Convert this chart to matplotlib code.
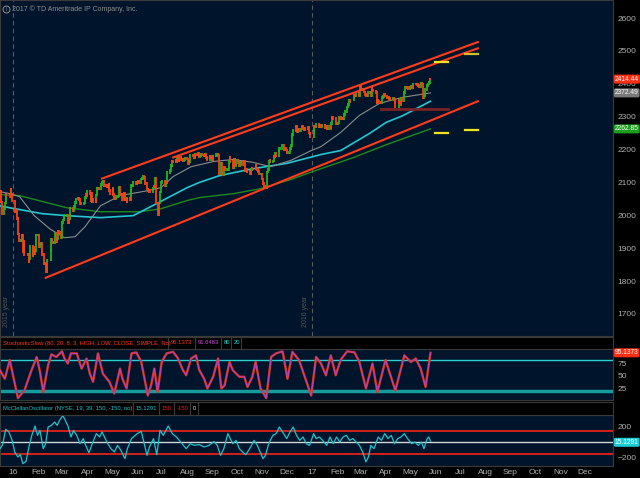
import matplotlib
matplotlib.use('Agg')
import matplotlib.pyplot as plt
import matplotlib.patches as patches
import matplotlib.transforms as mtrans
import pandas as pd

# ---- S&P 500 daily closes, 2015-12-16 .. 2017-05-26 ----
close = [
    2073, 2041, 2005, 2021, 2038, 2064, 2060, 2056, 2078, 2063, 2044,  # Dec 15
    2012, 2016, 1990, 1943, 1922, 1923, 1938, 1890, 1921, 1880, 1881, 1859, 1869, 1906, 1877, 1903, 1882, 1893, 1940,
    1940, 1904, 1913, 1915, 1880, 1853, 1852, 1851, 1829, 1864, 1895, 1926, 1917, 1917, 1945, 1921, 1929, 1951, 1948, 1932,
    1978, 1986, 1993, 1999, 2001, 1979, 1989, 1989, 2022, 2019, 2015, 2027, 2040, 2050, 2051, 2049, 2036, 2036, 2037, 2055, 2064, 2060,
    2073, 2067, 2045, 2066, 2041, 2048, 2042, 2062, 2082, 2083, 2080, 2094, 2101, 2102, 2091, 2092, 2088, 2092, 2095, 2076, 2065,
    2081, 2063, 2051, 2050, 2057, 2059, 2084, 2064, 2064, 2047, 2066, 2047, 2048, 2041, 2053, 2048, 2076, 2090, 2090, 2099, 2097,
    2099, 2105, 2099, 2110, 2112, 2119, 2116, 2096, 2080, 2076, 2072, 2077, 2071, 2083, 2089, 2086, 2113, 2037, 2001, 2037, 2071, 2099,
    2103, 2089, 2100, 2098, 2130, 2137, 2152, 2152, 2163, 2162, 2166, 2163, 2173, 2165, 2175, 2169, 2170, 2167, 2170, 2174,
    2171, 2157, 2164, 2164, 2183, 2181, 2182, 2176, 2186, 2184, 2190, 2179, 2182, 2187, 2184, 2182, 2186, 2175, 2173, 2169, 2180, 2176, 2171,
    2170, 2180, 2186, 2186, 2182, 2128, 2159, 2127, 2125, 2147, 2139, 2139, 2140, 2164, 2177, 2165, 2146, 2159, 2171, 2151, 2168,
    2161, 2150, 2160, 2160, 2153, 2164, 2137, 2139, 2132, 2133, 2127, 2140, 2144, 2141, 2141, 2151, 2143, 2140, 2133, 2126, 2126,
    2111, 2097, 2088, 2085, 2132, 2140, 2163, 2167, 2164, 2165, 2181, 2177, 2188, 2182, 2198, 2203, 2204, 2213, 2201, 2205, 2199,
    2191, 2192, 2204, 2212, 2241, 2246, 2260, 2256, 2272, 2253, 2262, 2258, 2263, 2270, 2265, 2261, 2264, 2268, 2250, 2249, 2239,
    2258, 2270, 2269, 2277, 2269, 2269, 2275, 2271, 2275, 2268, 2272, 2264, 2271, 2265, 2280, 2298, 2297, 2295, 2280, 2279,
    2280, 2281, 2297, 2293, 2295, 2294, 2307, 2316, 2329, 2338, 2350, 2347, 2351, 2366, 2363, 2364, 2367, 2370, 2364,
    2396, 2382, 2383, 2375, 2368, 2363, 2365, 2373, 2373, 2365, 2386, 2381, 2378, 2374, 2344, 2349, 2346, 2344, 2342, 2359, 2362, 2368, 2363,
    2359, 2360, 2352, 2357, 2355, 2357, 2353, 2344, 2329, 2349, 2343, 2338, 2355, 2348, 2374, 2388, 2387, 2389, 2384,
    2388, 2391, 2388, 2389, 2399, 2399, 2397, 2400, 2394, 2390, 2402, 2400, 2357, 2365, 2382, 2394, 2399, 2404, 2415, 2414.44,
]
holidays = ['2015-12-25', '2016-01-01', '2016-01-18', '2016-02-15', '2016-03-25', '2016-05-30',
            '2016-07-04', '2016-09-05', '2016-11-24', '2016-12-26', '2017-01-02', '2017-01-16',
            '2017-02-20', '2017-04-14']
dates = pd.bdate_range('2015-12-16', '2017-05-26', freq='C', holidays=holidays)
assert len(dates) == len(close), (len(dates), len(close))

# moving averages
sma50_dates = ['2015-12-16', '2015-12-28', '2016-01-09', '2016-01-27', '2016-02-15', '2016-03-04', '2016-03-17',
               '2016-03-29', '2016-04-17', '2016-05-11', '2016-06-14', '2016-06-30', '2016-07-15', '2016-08-06',
               '2016-09-03', '2016-09-27', '2016-10-21', '2016-11-11', '2016-12-06', '2016-12-31', '2017-01-12',
               '2017-02-05', '2017-02-28', '2017-03-25', '2017-04-22', '2017-05-26']
sma50 = [2072, 2066, 2057, 1999, 1959, 1932, 1935, 1965, 2029, 2060, 2075, 2084, 2118, 2148,
         2164, 2170, 2161, 2148, 2167, 2197, 2209, 2252, 2304, 2341, 2359, 2372.49]
sma100_dates = ['2015-12-16', '2015-12-28', '2016-02-06', '2016-03-07', '2016-04-17', '2016-05-27', '2016-06-25',
                '2016-08-01', '2016-08-16', '2016-09-10', '2016-10-21', '2016-12-01', '2017-01-12', '2017-02-05',
                '2017-03-13', '2017-04-02', '2017-04-22', '2017-05-26']
sma100 = [2029, 2023, 2005, 1999, 1993, 1999, 2036, 2084, 2100, 2121, 2142, 2158, 2185, 2197,
          2250, 2283, 2303, 2347]
sma200_dates = ['2015-12-16', '2016-01-09', '2016-03-07', '2016-04-17', '2016-06-05', '2016-06-30', '2016-08-01',
                '2016-08-16', '2016-09-27', '2016-10-30', '2016-12-06', '2017-01-12', '2017-02-21', '2017-04-02',
                '2017-05-26']
sma200 = [2063, 2060, 2023, 2011, 2011, 2020, 2045, 2054, 2066, 2081, 2109, 2142, 2176, 2215, 2262.85]

# drawn objects (date, price)
channel_lines = [
    (('2016-04-19', 2112), ('2017-07-23', 2527)),
    (('2016-07-15', 2176), ('2017-07-23', 2508)),
    (('2016-02-10', 1810), ('2017-07-23', 2347)),
]
support = (('2017-03-26', '2017-06-17'), 2322)
targets = [(('2017-05-31', '2017-06-17'), 2466, '#f2e21e'),
           (('2017-07-07', '2017-07-23'), 2491, '#c9c02a'),
           (('2017-05-31', '2017-06-17'), 2250, '#f2e21e'),
           (('2017-07-07', '2017-07-23'), 2260, '#f2e21e')]

# stochastic slow %K
stoch_dates = ['2015-12-16', '2015-12-22', '2015-12-28', '2016-01-07', '2016-01-15', '2016-01-23', '2016-01-30',
               '2016-02-03', '2016-02-07', '2016-02-13', '2016-02-17', '2016-02-23', '2016-03-01', '2016-03-04',
               '2016-03-08', '2016-03-12', '2016-03-19', '2016-03-25', '2016-03-31', '2016-04-04', '2016-04-08',
               '2016-04-14', '2016-04-20', '2016-04-28', '2016-05-04', '2016-05-11', '2016-05-14', '2016-05-19',
               '2016-05-25', '2016-05-31', '2016-06-06', '2016-06-14', '2016-06-18', '2016-06-22', '2016-06-26',
               '2016-07-01', '2016-07-07', '2016-07-15', '2016-07-21', '2016-07-27', '2016-07-31', '2016-08-06',
               '2016-08-12', '2016-08-16', '2016-08-22', '2016-08-26', '2016-09-02', '2016-09-08', '2016-09-12',
               '2016-09-16', '2016-09-22', '2016-09-26', '2016-10-04', '2016-10-10', '2016-10-14', '2016-10-20',
               '2016-10-24', '2016-10-30', '2016-11-06', '2016-11-12', '2016-11-18', '2016-11-26', '2016-12-02',
               '2016-12-08', '2016-12-16', '2016-12-24', '2016-12-31', '2017-01-06', '2017-01-12', '2017-01-18',
               '2017-01-24', '2017-01-30', '2017-02-05', '2017-02-13', '2017-02-22', '2017-02-28', '2017-03-08',
               '2017-03-16', '2017-03-22', '2017-04-01', '2017-04-13', '2017-04-24', '2017-05-02', '2017-05-08',
               '2017-05-14', '2017-05-20', '2017-05-26']
stoch_k = [61, 44, 81, 6, 21, 58, 87, 58, 18, 71, 92, 87, 98, 84, 74, 94, 94, 64, 84, 54, 38,
           94, 54, 38, 15, 64, 44, 25, 94, 96, 77, 11, 31, 64, 18, 77, 94, 97, 84, 61, 51, 84,
           90, 61, 44, 25, 48, 84, 25, 31, 77, 61, 48, 48, 28, 48, 77, 25, 6, 87, 94, 98, 44,
           97, 81, 44, 11, 87, 74, 51, 90, 51, 81, 98, 96, 77, 25, 74, 18, 81, 21, 90, 77, 84,
           64, 28, 95.14]

# McClellan oscillator
mcc_dates = ['2015-12-16', '2015-12-19', '2015-12-23', '2015-12-27', '2015-12-31', '2016-01-03', '2016-01-07',
             '2016-01-10', '2016-01-13', '2016-01-17', '2016-01-20', '2016-01-24', '2016-01-28', '2016-01-31',
             '2016-02-03', '2016-02-07', '2016-02-10', '2016-02-13', '2016-02-17', '2016-02-21', '2016-02-24',
             '2016-02-27', '2016-03-02', '2016-03-04', '2016-03-08', '2016-03-12', '2016-03-15', '2016-03-19',
             '2016-03-23', '2016-03-27', '2016-03-30', '2016-04-03', '2016-04-07', '2016-04-12', '2016-04-16',
             '2016-04-19', '2016-04-23', '2016-04-26', '2016-04-30', '2016-05-04', '2016-05-08', '2016-05-12',
             '2016-05-17', '2016-05-20', '2016-05-25', '2016-06-01', '2016-06-06', '2016-06-10', '2016-06-13',
             '2016-06-16', '2016-06-21', '2016-06-25', '2016-06-29', '2016-07-03', '2016-07-09', '2016-07-14',
             '2016-07-19', '2016-07-25', '2016-07-31', '2016-08-05', '2016-08-10', '2016-08-16', '2016-08-22',
             '2016-08-28', '2016-09-03', '2016-09-07', '2016-09-11', '2016-09-15', '2016-09-20', '2016-09-23',
             '2016-09-26', '2016-09-30', '2016-10-04', '2016-10-08', '2016-10-12', '2016-10-18', '2016-10-22',
             '2016-10-26', '2016-11-02', '2016-11-05', '2016-11-09', '2016-11-14', '2016-11-18', '2016-11-22',
             '2016-11-26', '2016-12-01', '2016-12-05', '2016-12-09', '2016-12-13', '2016-12-17', '2016-12-21',
             '2016-12-25', '2016-12-29', '2017-01-03', '2017-01-06', '2017-01-10', '2017-01-14', '2017-01-19',
             '2017-01-23', '2017-01-27', '2017-01-31', '2017-02-04', '2017-02-08', '2017-02-12', '2017-02-16',
             '2017-02-20', '2017-02-24', '2017-02-28', '2017-03-04', '2017-03-08', '2017-03-11', '2017-03-14',
             '2017-03-18', '2017-03-23', '2017-03-27', '2017-03-31', '2017-04-04', '2017-04-08', '2017-04-12',
             '2017-04-16', '2017-04-20', '2017-04-24', '2017-04-28', '2017-05-03', '2017-05-07', '2017-05-11',
             '2017-05-15', '2017-05-18', '2017-05-22', '2017-05-24', '2017-05-26']
mcc = [-82, -39, 166, 132, 25, -124, -188, -158, -274, -244, -82, 89, 209, 89,
       153, -82, -18, 196, 217, 260, 217, 281, 345, 303, 217, 68, 153, 89,
       -18, 47, -39, -133, -18, 111, 68, 132, 47, -18, -82, -124, -39, -103,
       -210, -82, 47, 111, 140, -39, -167, -60, 47, -158, 153, 89, 209, 111,
       68, -5, -82, -18, -39, -30, -60, -39, 10, -39, -167, -82, 111, 47,
       -18, 25, -82, -124, -158, -60, 25, -39, -210, -167, -18, 89, 111, 196,
       132, 47, 132, 196, 89, 25, 68, -18, -39, 111, 47, 68, 25, -39,
       68, -18, 68, 4, 68, 89, 25, 47, 4, -39, -124, -252, -188, -39,
       -82, 68, 25, 111, 47, 89, -18, 47, 68, 111, 47, -18, 4, -39,
       4, -82, 47, 68, 15.13]

month_ticks = pd.date_range('2016-01-01', '2017-12-01', freq='MS')

W, H = 640, 478
BG = '#00152b'
GRID = '#3a3a3a'
TXT = '#b0b0b0'
RED = '#ff3b1c'
FONT = 'Liberation Sans'

def fr(x0, y0, x1, y1):
    # pixel box (top-left origin) -> figure rect
    return [x0 / W, 1 - y1 / H, (x1 - x0) / W, (y1 - y0) / H]

fig = plt.figure(figsize=(W / 100, H / 100), dpi=100, facecolor='black')
ax = fig.add_axes(fr(0, 0, 613, 336), facecolor=BG)
ax_s = fig.add_axes(fr(0, 349, 613, 400), facecolor=BG, sharex=ax)
ax_m = fig.add_axes(fr(0, 415, 613, 466), facecolor=BG, sharex=ax)

xlim = (pd.Timestamp('2015-12-16 02:00'), pd.Timestamp('2018-01-04 10:00'))
for a in (ax, ax_s, ax_m):
    for s in a.spines.values():
        s.set_color(GRID)
        s.set_linewidth(0.8)
    a.yaxis.tick_right()
    a.tick_params(axis='y', length=0, pad=3, labelsize=6, labelcolor=TXT)
    a.tick_params(axis='x', length=0, labelbottom=False)
ax.set_xlim(*xlim)

# ---- price panel ----
opens = [close[0]] + close[:-1]
up_d = [d for d, o, c in zip(dates, opens, close) if c >= o]
up_lo = [o for o, c in zip(opens, close) if c >= o]
up_hi = [c for o, c in zip(opens, close) if c >= o]
dn_d = [d for d, o, c in zip(dates, opens, close) if c < o]
dn_lo = [c for o, c in zip(opens, close) if c < o]
dn_hi = [o for o, c in zip(opens, close) if c < o]
ax.vlines(up_d, [l - 4 for l in up_lo], [h + 4 for h in up_hi], color='#22b422', lw=1.3, zorder=4)
ax.vlines(dn_d, [l - 4 for l in dn_lo], [h + 4 for h in dn_hi], color='#ff3d14', lw=1.3, zorder=4)

ax.plot(pd.to_datetime(sma200_dates), sma200, color='#1d8a1d', lw=1.0, zorder=3)
ax.plot(pd.to_datetime(sma100_dates), sma100, color='#25c6d0', lw=1.2, zorder=3)
ax.plot(pd.to_datetime(sma50_dates), sma50, color='#8c8c8c', lw=0.8, zorder=3)

for (d0, p0), (d1, p1) in channel_lines:
    ax.plot(pd.to_datetime([d0, d1]), [p0, p1], color=RED, lw=1.5, zorder=5)
ax.plot(pd.to_datetime(list(support[0])), [support[1]] * 2, color='#7c2222', lw=2, zorder=5)
for (d0, d1), p, col in targets:
    ax.plot(pd.to_datetime([d0, d1]), [p, p], color=col, lw=1.6, zorder=5)

for yr, lab in (('2016-01-01', '2015 year'), ('2017-01-01', '2016 year')):
    ax.axvline(pd.Timestamp(yr), color='#5a5a5a', lw=0.8, ls=(0, (4, 3)), zorder=1)
    ax.text(pd.Timestamp(yr) - pd.Timedelta(days=4), 1660, lab, rotation=90, color='#555555',
            fontsize=5, ha='right', va='bottom', family=FONT)

ax.set_ylim(1633, 2655)
ax.set_yticks(range(1700, 2700, 100))

ax.text(0.019, 0.973, '2017 © TD Ameritrade IP Company, Inc.', transform=ax.transAxes,
        color='#8f8f8f', fontsize=5, va='center', family=FONT)
ax.plot([0.010], [0.973], transform=ax.transAxes, marker='o', ms=5, mfc='none', mec='#8f8f8f', mew=0.7)
ax.text(0.010, 0.972, 'i', transform=ax.transAxes, color='#8f8f8f', fontsize=4, ha='center', va='center')

def tag(a, val, txt, fc):
    tr = mtrans.blended_transform_factory(a.transAxes, a.transData)
    a.text(1.003, val, txt, transform=tr, fontsize=4.8, color='white', va='center', ha='left',
           clip_on=False, zorder=10, family=FONT,
           bbox=dict(boxstyle='round,pad=0.15,rounding_size=0.25', fc=fc, ec='none'))

tag(ax, 2414.44, '2414.44', '#ff2d12')
tag(ax, 2372.49, '2372.49', '#7a7a7a')
tag(ax, 2262.85, '2262.85', '#1e9e1e')

# ---- stochastic panel ----
sd = pd.to_datetime(stoch_dates)
ax_s.axhline(80, color='#2ad0d0', lw=1.0)
ax_s.axhline(20, color='#169c9c', lw=2.5)
ax_s.plot(sd, stoch_k, color='#d8301c', lw=1.7, zorder=3)
ax_s.plot(sd, stoch_k, color='#b447c8', lw=0.6, zorder=4)
ax_s.set_ylim(2.3, 102.6)
ax_s.set_yticks([25, 50, 75])
tag(ax_s, 95.14, '95.1373', '#ff2d12')

# ---- McClellan panel ----
ax_m.axhline(150, color='#e3231a', lw=1.3)
ax_m.axhline(-150, color='#e3231a', lw=1.3)
ax_m.axhline(0, color='#d6d6d6', lw=1.0)
ax_m.plot(pd.to_datetime(mcc_dates), mcc, color='#1fc3cc', lw=0.9, zorder=3)
ax_m.set_ylim(-304, 350)
ax_m.set_yticks([-200, 200])
tag(ax_m, 0, '15.1291', '#19cdd6')

ax_m.set_xticks(month_ticks)
ax_m.set_xticklabels([d.strftime('%y') if d.month == 1 else d.strftime('%b') for d in month_ticks])
ax_m.tick_params(axis='x', labelbottom=True, labelsize=6, labelcolor=TXT, pad=2)
for a in (ax, ax_s, ax_m):
    for t in a.get_yticklabels() + a.get_xticklabels():
        t.set_family(FONT)

# ---- header strips ----
def header(y0, y1, items, dividers):
    fig.add_artist(patches.Rectangle((0, 1 - y1 / H), 613 / W, (y1 - y0) / H, transform=fig.transFigure,
                                     fc='black', ec=GRID, lw=0.8))
    for x in dividers:
        fig.add_artist(plt.Line2D([x / W, x / W], [1 - y1 / H, 1 - y0 / H], transform=fig.transFigure,
                                  color=GRID, lw=0.8))
    for x, s, c in items:
        fig.text(x / W, 1 - (y0 + y1) / 2 / H, s, color=c, fontsize=4.2, va='center', ha='left',
                 family=FONT)

header(337, 349, [(3, 'StochasticSlow (80, 20, 8, 3, HIGH, LOW, CLOSE, SIMPLE, No)', '#ff3b1c'),
                  (171, '95.1373', '#ff3b1c'), (198, '91.6483', '#c84ee0'),
                  (224, '80', '#2ad0d0'), (234, '20', '#2ad0d0')],
       [168, 195, 221, 231, 241])
header(402, 415, [(3, 'McClellanOscillator (NYSE, 19, 39, 150, -150, no)', '#1fc3cc'),
                  (136, '15.1291', '#1fc3cc'), (162, '150', '#e3231a'),
                  (177, '-150', '#e3231a'), (193, '0', '#d6d6d6')],
       [133, 159, 174, 190, 198])

fig.savefig('out.png', dpi=100, facecolor='black')
